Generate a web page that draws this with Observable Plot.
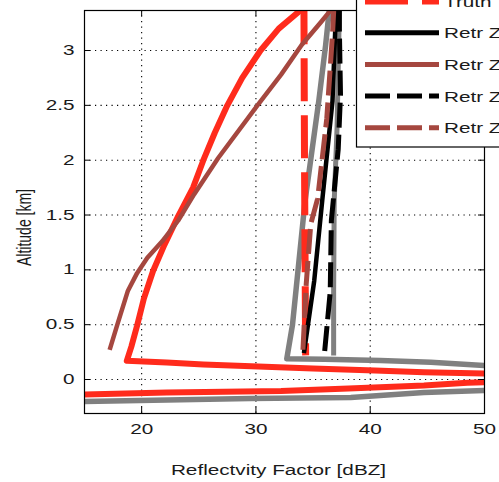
<!DOCTYPE html>
<html>
<head>
<meta charset="utf-8">
<script src="https://cdn.jsdelivr.net/npm/d3@7"></script>
<script src="https://cdn.jsdelivr.net/npm/@observablehq/plot@0.6"></script>
<style>
  html, body { margin: 0; padding: 0; background: #fff; overflow: hidden; }
  #chart svg { display: block; }
</style>
</head>
<body>
<div id="chart"></div>
<script>
// Axis ticks and titles
const xTicks = [20, 30, 40, 50];
const yTicks = [0, 0.5, 1, 1.5, 2, 2.5, 3];
const xTitle = "Reflectvity Factor [dBZ]";
const yTitle = "Altitude [km]";

// Profiles as [reflectivity dBZ, altitude km], top to bottom
const measured = [
  [34.3, 3.40], [33.7, 3.35], [32.0, 3.20], [30.4, 3.00], [28.8, 2.75], [27.5, 2.50],
  [26.4, 2.25], [25.4, 2.00], [24.5, 1.75], [23.2, 1.49], [22.0, 1.23], [21.0, 0.99],
  [20.2, 0.74], [19.6, 0.49], [19.1, 0.30], [18.7, 0.17], [22.2, 0.155], [25.4, 0.136],
  [30.2, 0.118], [35.0, 0.100], [40.4, 0.082], [44.7, 0.066], [50.3, 0.055], [53.0, 0.040],
  [55.0, 0.015], [53.0, -0.010], [50.0, -0.024], [48.5, -0.030], [44.7, -0.055],
  [38.1, -0.082], [32.2, -0.104], [22.2, -0.118], [15.0, -0.136], [13.0, -0.140]
];
const clutterA = [
  [36.6, 3.45], [36.4, 3.35], [36.1, 3.05], [35.5, 2.54], [34.3, 1.63], [33.2, 0.50],
  [32.7, 0.19], [36.0, 0.185], [40.9, 0.173], [45.3, 0.157], [50.2, 0.127], [53.0, 0.090],
  [56.0, 0.030], [55.0, -0.020], [52.0, -0.070], [50.2, -0.100], [44.7, -0.118],
  [38.3, -0.164], [29.5, -0.173], [15.0, -0.200], [13.0, -0.200]
];
const clutterB = [
  [37.4, 3.45], [37.3, 3.36], [37.1, 2.30], [36.85, 1.63], [36.8, 0.80], [36.8, 0.22]
];
const truth = [
  [34.2, 3.45], [34.25, 2.00], [34.35, 0.22]
];
const retrBlack = [
  [37.1, 3.40], [37.0, 3.35], [36.7, 2.54], [35.8, 1.63], [35.1, 0.90], [34.2, 0.24]
];
const retrBrown = [
  [36.7, 3.40], [36.4, 3.35], [35.7, 3.26], [34.0, 3.05], [32.2, 2.78], [30.2, 2.51],
  [26.7, 2.02], [24.6, 1.69], [23.2, 1.45], [21.8, 1.26], [20.5, 1.11], [19.6, 0.97],
  [18.8, 0.81], [17.9, 0.51], [17.2, 0.27]
];
const retrBlackDash = [
  [37.3, 3.40], [37.3, 3.20], [37.4, 2.60], [37.2, 2.10], [36.6, 1.45], [36.5, 0.80], [36.0, 0.24]
];
const retrBrownDash = [
  [36.8, 3.40], [36.8, 3.35], [36.7, 3.15], [36.2, 2.38], [35.4, 1.65], [34.8, 1.42],
  [34.4, 0.87], [34.1, 0.24]
];

// Legend entries (the upper part of the box lies outside the figure)
const legendNames = ["Truth", "Retr Z", "Retr Z", "Retr Z", "Retr Z"];

const RED = "#ff2b1c", BROWN = "#a5473f", GREY = "#808080";
const legendColors = [RED, "black", BROWN, "black", BROWN];
const legendDash = ["43,14", null, null, "25,7", "25,7"];
const legendWidths = [7, 5, 5, 5, 5];

const W = 499, H = 482;
const M = {left: 84, right: 15, top: 10, bottom: 69};
const innerW = W - M.left - M.right, innerH = H - M.top - M.bottom;
const FONT = "'Liberation Sans', Arial, Helvetica, sans-serif";
const STRETCH = 1.48;

const prof = (data, stroke, strokeWidth, dash) => Plot.line(data, {
  x: d => d[0], y: d => d[1], stroke, strokeWidth, clip: true,
  strokeDasharray: dash, strokeLinejoin: "round", strokeLinecap: "butt"
});

const chart = Plot.plot({
  width: W, height: H,
  marginLeft: M.left, marginRight: M.right, marginTop: M.top, marginBottom: M.bottom,
  style: {fontFamily: FONT, fontSize: "14px", color: "#1a1a1a", background: "white"},
  x: {domain: [15, 50], ticks: xTicks},
  y: {domain: [-0.31, 3.365], ticks: yTicks},
  marks: [
    Plot.gridX(xTicks.slice(0, -1), {stroke: "black", strokeOpacity: 1, strokeWidth: 1.1, strokeDasharray: "1.2,4.3"}),
    Plot.gridY(yTicks, {stroke: "black", strokeOpacity: 1, strokeWidth: 1.1, strokeDasharray: "1.2,4.3"}),
    prof(measured, RED, 6),
    prof(clutterA, GREY, 5.5),
    prof(clutterB, GREY, 5),
    prof(truth, RED, 7, "43,14"),
    prof(retrBlack, "black", 4.5),
    prof(retrBrown, BROWN, 4.5),
    prof(retrBlackDash, "black", 5, "25,7"),
    prof(retrBrownDash, BROWN, 5, "25,7"),
    // inward ticks on all four sides
    Plot.ruleX(xTicks, {x: d => d, insetTop: innerH - 6, stroke: "black"}),
    Plot.ruleX(xTicks, {x: d => d, insetBottom: innerH - 6, stroke: "black"}),
    Plot.ruleY(yTicks, {y: d => d, insetRight: innerW - 6, stroke: "black"}),
    Plot.ruleY(yTicks, {y: d => d, insetLeft: innerW - 6, stroke: "black"}),
    Plot.frame({stroke: "black", strokeWidth: 1.2}),
    Plot.axisX(xTicks, {tickSize: 0, tickPadding: 11, label: null, tickFormat: d => String(d)}),
    Plot.axisY(yTicks, {tickSize: 0, tickPadding: 10, label: null, tickFormat: d => String(d)})
  ]
});

document.getElementById("chart").appendChild(chart);
const svg = d3.select(chart);

// widen the tick labels horizontally
function stretch(el, sx, sy) {
  const t = el.getAttribute("transform");
  if (t) el.setAttribute("transform", `${t} scale(${sx},${sy})`);
  else {
    const x = +el.getAttribute("x") || 0, y = +el.getAttribute("y") || 0;
    el.setAttribute("transform", `translate(${x},${y}) scale(${sx},${sy}) translate(${-x},${-y})`);
  }
}
svg.selectAll('g[aria-label="x-axis tick label"] text, g[aria-label="y-axis tick label"] text')
  .each(function() { stretch(this, STRETCH, 1); });

// axis titles
svg.append("text")
  .attr("transform", `translate(278.5,475) scale(${STRETCH},1)`)
  .attr("text-anchor", "middle")
  .attr("font-family", FONT).attr("font-size", 14).attr("fill", "#1a1a1a")
  .text(xTitle);
svg.append("text")
  .attr("transform", `translate(31,227.5) rotate(-90) scale(1,${STRETCH})`)
  .attr("text-anchor", "middle")
  .attr("font-family", FONT).attr("font-size", 14).attr("fill", "#1a1a1a")
  .text(yTitle);

// legend box
const lg = svg.append("g").attr("class", "legend");
lg.append("rect")
  .attr("x", 356.5).attr("y", -200).attr("width", 300).attr("height", 347)
  .attr("fill", "white").attr("stroke", "black").attr("stroke-width", 1.2);
const rowY = i => 1 + 31.7 * i;
legendNames.forEach((name, i) => {
  lg.append("line")
    .attr("x1", 365).attr("x2", 439).attr("y1", rowY(i)).attr("y2", rowY(i))
    .attr("stroke", legendColors[i]).attr("stroke-width", legendWidths[i])
    .attr("stroke-dasharray", legendDash[i]);
  lg.append("text")
    .attr("transform", `translate(444,${rowY(i) + 5.5}) scale(${STRETCH},1)`)
    .attr("text-anchor", "start")
    .attr("font-family", FONT).attr("font-size", 14).attr("fill", "#1a1a1a")
    .text(name);
});
</script>
</body>
</html>
